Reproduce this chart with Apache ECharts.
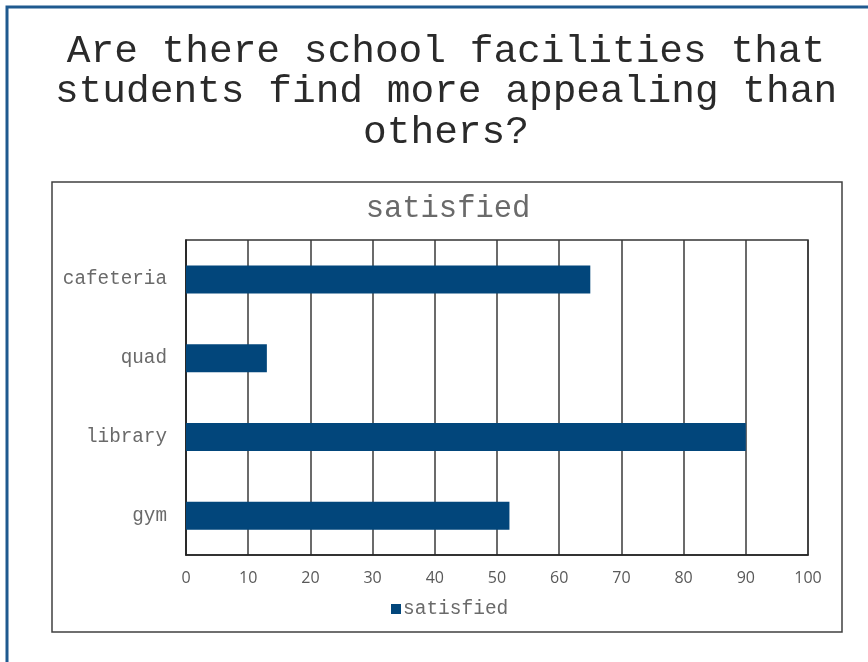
<!DOCTYPE html>
<html>
<head>
<meta charset="utf-8">
<script src="https://cdn.jsdelivr.net/npm/echarts@6/dist/echarts.min.js"></script>
<style>
  html, body { margin: 0; padding: 0; background: #fff; }
  #main { width: 868px; height: 662px; }
</style>
</head>
<body>
<div id="main"></div>
<script>
// chart data
var categories = ['cafeteria', 'quad', 'library', 'gym'];
var satisfied = [65, 13, 90, 52];
var seriesName = 'satisfied';
var chartTitle = 'Are there school facilities that\nstudents find more appealing than\nothers?';

var myChart = echarts.init(document.getElementById('main'));
var mono = '"Liberation Mono", "DejaVu Sans Mono", monospace';

var option = {
    animation: false,
    backgroundColor: '#fff',
    title: [
        {
            text: chartTitle,
            left: 446,
            top: 31,
            padding: 0,
            textAlign: 'center',
            textStyle: { fontFamily: mono, fontSize: 39.5, fontWeight: 'normal', color: '#2a2a2a', lineHeight: 40.5, align: 'center' }
        },
        {
            text: seriesName,
            left: 448,
            top: 193,
            padding: 0,
            textAlign: 'center',
            textStyle: { fontFamily: mono, fontSize: 30.5, fontWeight: 'normal', color: '#6a6a6a' }
        }
    ],
    graphic: [
        {
            type: 'rect',
            shape: { x: 7, y: 7, width: 900, height: 700 },
            style: { fill: 'none', stroke: '#1f5a8f', lineWidth: 3 },
            z: 0
        },
        {
            type: 'rect',
            shape: { x: 52, y: 182, width: 790, height: 450 },
            style: { fill: 'none', stroke: '#404040', lineWidth: 1.5 },
            z: 0
        }
    ],
    legend: {
        data: [seriesName],
        left: 386,
        top: 594,
        icon: 'rect',
        itemWidth: 10,
        itemHeight: 10,
        itemGap: 4,
        textStyle: { fontFamily: mono, fontSize: 19.5, color: '#6a6a6a', padding: [0, 0, 0, -3] }
    },
    grid: {
        left: 186, right: 60, top: 240, bottom: 107,
        show: true, borderColor: '#333', borderWidth: 1.5,
        containLabel: false
    },
    xAxis: {
        type: 'value',
        min: 0, max: 100, interval: 10,
        axisLine: { show: true, lineStyle: { color: '#222', width: 1.5 } },
        axisTick: { show: false },
        splitLine: { show: true, lineStyle: { color: '#3a3a3a', width: 1.5 } },
        axisLabel: { fontFamily: '"Open Sans", sans-serif', fontSize: 16, color: '#595959', margin: 15 }
    },
    yAxis: {
        type: 'category',
        data: categories,
        inverse: true,
        axisLine: { show: true, lineStyle: { color: '#222', width: 1.5 } },
        axisTick: { show: false },
        splitLine: { show: false },
        axisLabel: { fontFamily: mono, fontSize: 19.3, color: '#6a6a6a', margin: 19 }
    },
    series: [
        {
            name: seriesName,
            type: 'bar',
            data: satisfied,
            barWidth: 28,
            itemStyle: { color: '#02467b' }
        }
    ]
};

myChart.setOption(option);
</script>
</body>
</html>
